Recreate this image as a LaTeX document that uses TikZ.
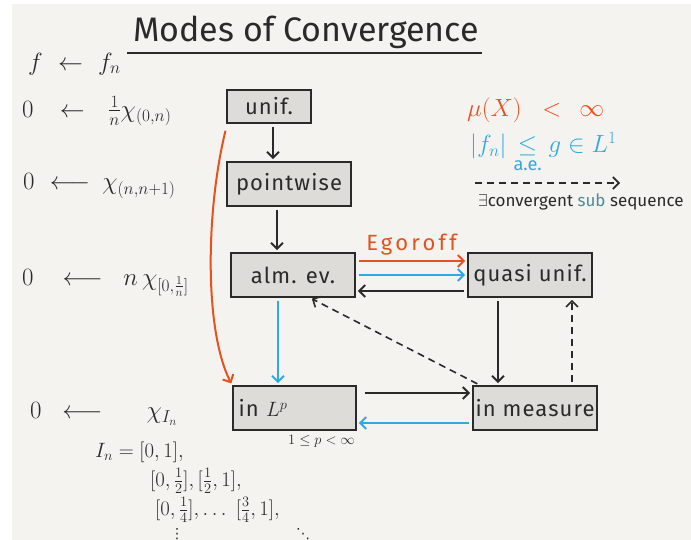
\documentclass[tikz,border=0pt]{standalone}
\usepackage{amsmath}
\usepackage{fontspec}
\setmainfont{Fira Sans}
\newfontfamily\dotsfont{DejaVu Sans}
\usetikzlibrary{arrows.meta}
\definecolor{bgc}{HTML}{F4F3F0}
\definecolor{boxc}{HTML}{DDDCD8}
\definecolor{ink}{HTML}{2A2A2A}
\definecolor{orng}{HTML}{E5521E}
\definecolor{blu}{HTML}{2FA9E1}
\definecolor{subc}{HTML}{4D8B96}
\begin{document}
\begin{tikzpicture}[x=1pt,y=-1pt,
  mode/.style={draw=ink, fill=boxc, line width=1.6pt, minimum width=124pt,
    minimum height=44pt, inner sep=0pt, text=ink,
    font=\fontsize{22}{24}\selectfont\addfontfeature{LetterSpace=5}},
  tip/.style={-{Straight Barb[length=6pt,width=12pt]}},
  arr/.style={tip, line width=2pt, draw=ink, shorten <=3pt, shorten >=2pt},
  orarr/.style={arr, draw=orng},
  blarr/.style={arr, draw=blu},
  darr/.style={arr, dash pattern=on 7pt off 5pt, line width=1.6pt},
  lt/.style={anchor=west, inner sep=0pt, text=ink, font=\fontsize{26}{28}\selectfont},
  st/.style={lt, font=\fontsize{21}{23}\selectfont},
  dt/.style={anchor=base west, inner sep=0pt, text=ink, font=\dotsfont\fontsize{14}{16}\selectfont}
]
\fill[white] (0,0) rectangle (691,540);
\fill[bgc] (12,4) rectangle (691,540);
\useasboundingbox (0,0) rectangle (691,540);

% title
\node[anchor=base west, inner sep=0pt, text=ink,
  font=\fontsize{34}{38}\selectfont] (title) at (133,42) {Modes of Convergence};
\draw[ink, line width=1.8pt] ([xshift=-6pt,yshift=-11pt]title.base west)
  -- ([xshift=3pt,yshift=-11pt]title.base east);
\node[lt] (ff) at (28,64) {$f\mkern6mu\leftarrow\mkern6mu f_n$};

% left examples
\node[lt] (r1) at (22,111) {$0\mkern14mu\leftarrow\mkern12mu\tfrac1n\chi_{(0,n)}$};
\node[lt] (r2) at (23,186) {$0\mkern6mu\longleftarrow\mkern4mu\chi_{(n,n+1)}$};
\node[lt] (r3) at (22,283) {$0\mkern16mu\longleftarrow\mkern10mu n\,\chi_{[0,\frac1n]}$};
\node[lt] (r4) at (30,414) {$0\mkern10mu\longleftarrow\mkern27mu\chi_{I_n}$};
\node[st] (r5) at (95,452) {$I_n=[0,1],$};
\node[st] (r6) at (150,481) {$[0,\tfrac12],[\tfrac12,1],$};
\node[st] (r7) at (155,510) {$[0,\tfrac14],\dots\;[\tfrac34,1],$};
\node[dt] (vd) at (170,538) {⋮};
\node[dt] (dd) at (296,538) {⋱};

% modes
\node[mode, minimum width=84pt, minimum height=33pt] (unif) at (269,106.5) {unif.};
\node[mode] (pw) at (289,184) {pointwise};
\node[mode] (alm) at (293,275) {alm. ev.};
\node[mode] (qu) at (530,275) {quasi unif.};
\node[mode, minimum width=123pt, text width=112pt, align=left] (lp) at (294.5,408) {in $L^p$};
\node[mode] (me) at (535,408) {in measure};
\node[lt, font=\fontsize{15}{17}\selectfont] (pr) at (288,441) {$1\le p<\infty$};

% connectors
\draw[arr] ([xshift=4pt]unif.south) -- ([xshift=-16pt]pw.north);
\draw[arr] ([xshift=-12pt]pw.south) -- ([xshift=-16pt]alm.north);
\draw[orarr] ([yshift=14pt]alm.east) -- node[above=1pt, text=orng,
  font=\fontsize{22}{24}\selectfont\addfontfeature{LetterSpace=15}] (ego) {Egoroff}
  ([yshift=14pt]qu.west);
\draw[blarr] (alm.east) -- (qu.west);
\draw[arr] ([yshift=-16pt]qu.west) -- ([yshift=-16pt]alm.east);
\draw[arr] ([xshift=-32pt]qu.south) -- ([xshift=-37pt]me.north);
\draw[darr] ([xshift=37pt]me.north) -- ([xshift=42pt]qu.south);
\draw[darr] ([xshift=-55pt]me.north) -- ([xshift=17pt]alm.south);
\draw[blarr] ([xshift=-15pt]alm.south) -- ([xshift=-16.5pt]lp.north);
\draw[arr, shorten <=8pt] ([yshift=15pt]lp.east) -- ([yshift=15pt]me.west);
\draw[blarr] ([yshift=-15pt]me.west) -- ([yshift=-15pt]lp.east);
\draw[orarr] ([yshift=-4pt]unif.south west) .. controls (206,210) and (204,330) .. (lp.north west);

% legend
\node[lt, text=orng, font=\fontsize{34}{36}\selectfont] (mu) at (467,110)
  {$\mu(X)\mkern10mu<\mkern8mu\infty$};
\node[lt, text=blu, font=\fontsize{26}{28}\selectfont] (dom) at (470,153)
  {$|f_n|\underset{\text{a.e.}}{\le} g\in L^1$};
\coordinate (l1) at (475,183);
\coordinate (l2) at (622,183);
\draw[darr, shorten <=0pt] (l1) -- (l2);
\node[lt, font=\fontsize{17}{19}\selectfont] (sub) at (478,202)
  {$\exists$convergent \textcolor{subc}{sub} sequence};
\end{tikzpicture}
\end{document}
